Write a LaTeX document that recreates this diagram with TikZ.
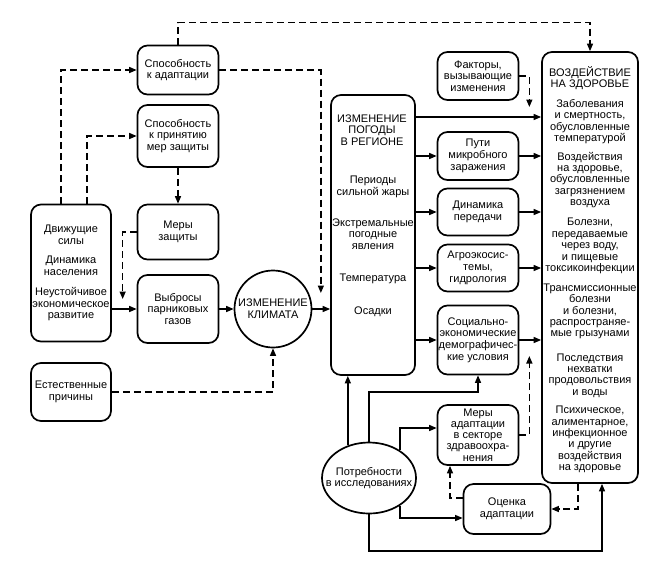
\documentclass[tikz,border=0pt]{standalone}
\usepackage{fontspec}
\setmainfont{Liberation Sans}
\usetikzlibrary{arrows.meta,shapes.geometric}
\begin{document}
\begin{tikzpicture}[x=1pt,y=-1pt,
  box/.style={draw,line width=1.7pt,rounded corners=10pt,align=center,inner sep=1pt,minimum width=81pt,font=\fontsize{11}{11.7}\selectfont},
  txt/.style={align=center,inner sep=0pt,font=\fontsize{11}{11.7}\selectfont},
  htxt/.style={txt,font=\fontsize{11}{11.4}\selectfont},
  arr/.style={line width=1.35pt,-{Triangle[length=7.5pt,width=6pt]}},
  darr/.style={arr,dash pattern=on 7pt off 4pt}]
  \useasboundingbox (0,0) rectangle (652,563);
  \node[box,minimum height=49pt] (adapt) at (178,70) {Способность\\к адаптации};
  \node[box,minimum height=62pt] (protect) at (178,136) {Способность\\к принятию\\мер защиты};
  \node[box,minimum width=80pt,minimum height=137pt] (driving) at (71,273) {Движущие\\силы\\[8pt]Динамика\\населения\\[8pt]Неустойчивое\\экономическое\\развитие};
  \node[box,minimum height=55pt] (measures) at (178,232) {Меры\\защиты};
  \node[box,minimum height=68pt] (emiss) at (178,309) {Выбросы\\парниковых\\газов};
  \node[draw,circle,line width=1.7pt,minimum size=77pt,inner sep=0pt,align=center,font=\fontsize{11}{11.7}\selectfont] (clim) at (273,309) {ИЗМЕНЕНИЕ\\КЛИМАТА};
  \node[box,minimum width=80pt,minimum height=58pt] (natural) at (71,392) {Естественные\\причины};
  \node[box,minimum height=48pt] (factors) at (478,76) {Факторы,\\вызывающие\\изменения};
  \node[box,minimum width=84pt,minimum height=280pt] (weather) at (373,235) {};
  \node[txt] (wtitle) at (372,130) {ИЗМЕНЕНИЕ\\ПОГОДЫ\\В РЕГИОНЕ};
  \node[txt] (wheat) at (373,187) {Периоды\\сильной жары};
  \node[txt] (wextreme) at (373,234) {Экстремальные\\погодные\\явления};
  \node[txt] (wtemp) at (373,279) {Температура};
  \node[txt] (wrain) at (373,312) {Осадки};
  \node[box,minimum width=96pt,minimum height=431pt] (health) at (590,267.5) {};
  \node[htxt] (htitle) at (590,78) {ВОЗДЕЙСТВИЕ\\НА ЗДОРОВЬЕ};
  \node[htxt] (htemp) at (590,121.5) {Заболевания\\и смертность,\\обусловленные\\температурой};
  \node[htxt] (hair) at (590,180) {Воздействия\\на здоровье,\\обусловленные\\загрязнением\\воздуха};
  \node[htxt] (hwater) at (590,246) {Болезни,\\передаваемые\\через воду,\\и пищевые\\токсикоинфекции};
  \node[htxt] (hvector) at (590,311.5) {Трансмиссионные\\болезни\\и болезни,\\распространяе-\\мые грызунами};
  \node[htxt] (hfood) at (590,375.5) {Последствия\\нехватки\\продовольствия\\и воды};
  \node[htxt] (hother) at (590,439.5) {Психическое,\\алиментарное,\\инфекционное\\и другие\\воздействия\\на здоровье};
  \node[box,minimum height=48pt] (paths) at (478,156) {Пути\\микробного\\заражения};
  \node[box,minimum height=47pt] (dynamic) at (478,212) {Динамика\\передачи};
  \node[box,minimum height=47pt] (agro) at (478,268) {Агроэкосис-\\темы,\\гидрология};
  \node[box,minimum height=69pt] (social) at (478,340) {Социально-\\экономические\\демографичес-\\кие условия};
  \node[box,minimum height=60pt,font=\fontsize{11}{11.2}\selectfont] (adaptmeas) at (478,435) {Меры\\адаптации\\в секторе\\здравоохра-\\нения};
  \node[draw,ellipse,line width=1.7pt,minimum width=94pt,minimum height=71pt,inner sep=0pt] (research) at (369,478) {};
  \node[txt] (researchtxt) at (research) {Потребности\\в исследованиях};
  \node[box,minimum width=87pt,minimum height=50pt] (assess) at (507,509) {Оценка\\адаптации};
  \draw[darr] (adapt.north) -- ++(0,-22) -| (health.north);
  \draw[darr] ([xshift=-10pt]driving.north) |- (adapt.west);
  \draw[darr] ([xshift=16pt]driving.north) |- (protect.west);
  \draw[darr] (protect) -- (measures);
  \draw[darr] (measures.west) -- ++(-14,0) -- ++(0,67);
  \draw[arr] (driving.east |- emiss.west) -- (emiss.west);
  \draw[arr] (emiss) -- (clim);
  \draw[arr] (clim) -- (clim -| weather.west);
  \draw[darr] (adapt.east) -- ++(101.5,0) -- ++(0,223);
  \draw[darr] (natural) -| (clim);
  \draw[darr] (factors.east) -- ++(10,0) -- ++(0,31);
  \draw[arr] (weather.east |- 0,117) -- (health.west |- 0,117);
  \foreach \b in {paths,dynamic,agro,social}{
    \draw[arr] (weather.east |- \b) -- (\b);
    \draw[arr] (\b) -- (\b -| health.west);
  }
  \draw[darr] (adaptmeas.east) -- ++(10,0) -- ++(0,-79);
  \draw[arr] (research.123) -- (research.123 |- weather.south);
  \draw[arr] (research.north) -- ++(0,-49.5) -| (social.south);
  \draw[arr] (research.42) |- ([yshift=7pt]adaptmeas.west);
  \draw[arr] (research.-42) |- ([yshift=-9pt]assess.west);
  \draw[arr] (research.south) -- ++(0,36.5) -| ([xshift=12pt]health.south);
  \draw[darr] ([xshift=-12pt]health.south) |- (assess.east);
  \draw[darr] ([yshift=11pt]assess.west) -| ([xshift=-28pt]adaptmeas.south);
\end{tikzpicture}
\end{document}
